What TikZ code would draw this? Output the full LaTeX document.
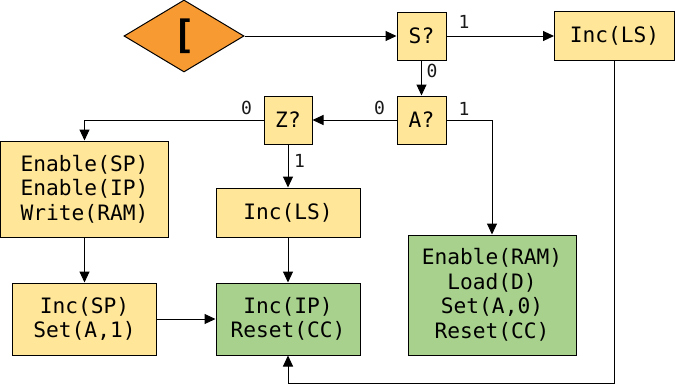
\documentclass[tikz,border=0pt]{standalone}
\usepackage{fontspec}
\setmonofont{DejaVu Sans Mono}
\usetikzlibrary{shapes.geometric,arrows.meta}
\definecolor{boxy}{HTML}{FFE699}
\definecolor{boxg}{HTML}{A9D18E}
\definecolor{boxo}{HTML}{F89A32}
\begin{document}
\begin{tikzpicture}[x=1pt,y=-1pt,
  box/.style={draw, line width=1pt, fill=boxy, inner sep=0pt, align=center,
    font=\fontsize{21.2}{24.5}\selectfont\ttfamily},
  gbox/.style={box, fill=boxg},
  lab/.style={inner sep=0pt, anchor=base, text=black!90, font=\fontsize{18}{20}\selectfont\ttfamily},
  conn/.style={line width=1pt, -{Triangle[length=11pt,width=10pt]}}]
\useasboundingbox (0,0) rectangle (675,384);
\node[draw, line width=1pt, fill=boxo, diamond, minimum width=120pt, minimum height=72pt, inner sep=0pt,
  font=\fontsize{39}{40}\selectfont\ttfamily\bfseries] (start) at (184,36) {[};
\node[box, minimum width=49pt, minimum height=48pt] (s) at (421.5,36) {S?};
\node[box, minimum width=120pt, minimum height=49pt] (incls1) at (614.5,36) {Inc(LS)};
\node[box, minimum width=49pt, minimum height=48pt] (a) at (421.5,120) {A?};
\node[box, minimum width=48pt, minimum height=48pt] (z) at (288,120) {Z?};
\node[box, minimum width=168pt, minimum height=96pt] (en) at (84.5,189) {Enable(SP)\\Enable(IP)\\Write(RAM)};
\node[box, minimum width=144pt, minimum height=49pt] (incls2) at (288,212.5) {Inc(LS)};
\node[box, minimum width=144pt, minimum height=72pt] (incsp) at (84.5,319) {Inc(SP)\\Set(A,1)};
\node[gbox, minimum width=144pt, minimum height=72pt] (incip) at (288,319) {Inc(IP)\\Reset(CC)};
\node[gbox, minimum width=168pt, minimum height=120pt] (ram) at (492,295) {Enable(RAM)\\Load(D)\\Set(A,0)\\Reset(CC)};
\coordinate (loop) at (288,383);

\draw[conn] (start) -- (s);
\draw[conn] (s) -- (incls1);
\draw[conn] (s) -- (a);
\draw[conn] (a) -- (z);
\draw[conn] (a.east) -| (ram.north);
\draw[conn] (z.west) -| (en.north);
\draw[conn] (z) -- (incls2);
\draw[conn] (en) -- (incsp);
\draw[conn] (incls2) -- (incip);
\draw[conn] (incsp) -- (incip);
\draw[conn] (incls1.south) |- (loop) -- (incip.south);

\node[lab] (l1) at (464,28) {1};
\node[lab] (l2) at (432,77) {0};
\node[lab] (l3) at (379.5,114) {0};
\node[lab] (l4) at (464,115) {1};
\node[lab] (l5) at (246.5,114) {0};
\node[lab] (l6) at (299.5,167) {1};
\end{tikzpicture}
\end{document}
